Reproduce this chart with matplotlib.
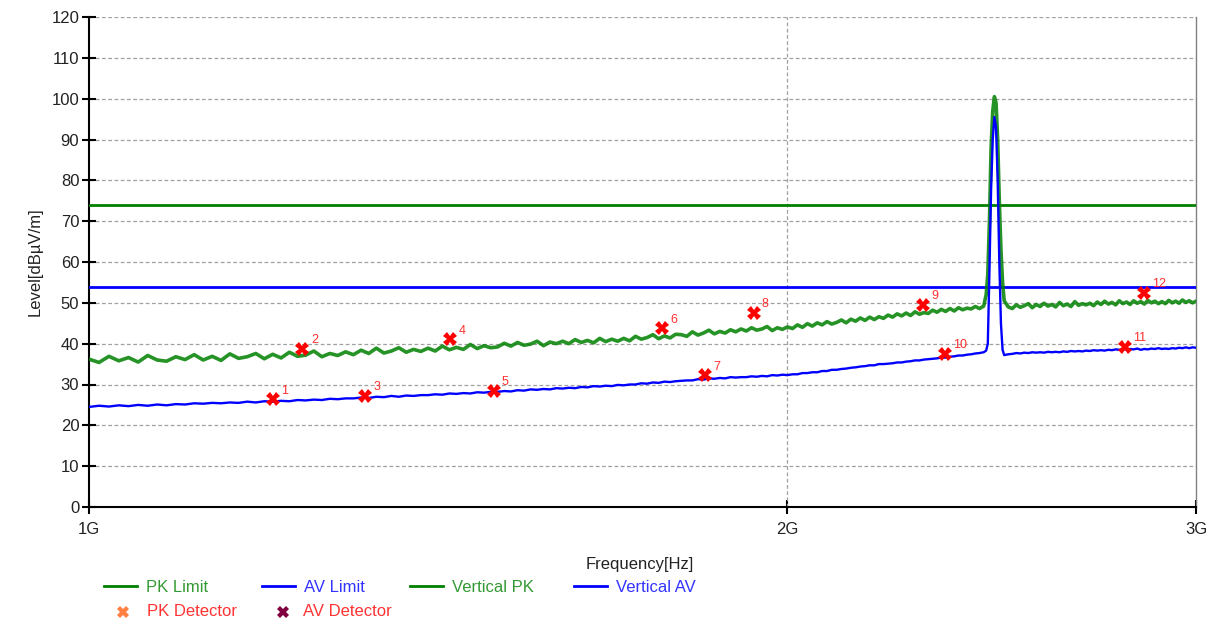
import numpy as np
import matplotlib
matplotlib.use("Agg")
import matplotlib.pyplot as plt
from matplotlib.lines import Line2D

plt.rcParams['font.family'] = ['Liberation Sans', 'DejaVu Sans']

# sweep grid (MHz), 10 MHz steps below and above the 2.45 GHz carrier
sweep_lo_mhz = np.arange(1000, 2440, 10)
peak_mhz = [2436, 2440, 2444, 2448, 2452, 2456, 2460, 2464, 2468, 2472, 2476, 2480, 2490]
sweep_hi_mhz = np.arange(2500, 3010, 10)

pk_lo = [
    36.2, 35.4, 36.9, 35.8, 36.6, 35.5, 37.1, 36.0, 35.7, 36.8,
    36.1, 37.3, 36.0, 36.9, 35.9, 37.5, 36.4, 36.8, 37.6, 36.3,
    37.4, 36.5, 37.9, 36.9, 37.2, 38.2, 36.8, 37.6, 37.1, 38.0,
    37.3, 38.4, 37.6, 38.9, 37.7, 38.2, 39.0, 37.9, 38.6, 38.1,
    38.9, 38.2, 39.4, 38.5, 39.1, 38.6, 39.8, 38.8, 39.5, 39.0,
    39.2, 40.1, 39.4, 40.3, 39.6, 39.9, 40.6, 39.5, 40.4, 40.0,
    40.6, 40.0, 41.0, 40.3, 40.8, 40.2, 41.3, 40.5, 41.1, 40.6,
    41.3, 40.7, 41.8, 41.1, 41.5, 42.2, 41.2, 41.9, 41.4, 42.3,
    42.2, 41.8, 42.9, 42.1, 42.6, 43.3, 42.4, 43.0, 42.6, 43.4,
    42.9, 43.6, 43.1, 43.9, 43.3, 43.6, 44.2, 43.2, 43.9, 43.5,
    44.1, 43.7, 44.6, 44.0, 44.9, 44.3, 45.1, 44.6, 45.4, 44.8,
    45.2, 45.8, 45.1, 46.0, 45.5, 46.3, 45.7, 46.5, 45.9, 46.6,
    46.2, 47.0, 46.5, 47.3, 46.8, 47.5, 46.9, 47.8, 47.2, 47.6,
    47.4, 48.2, 47.7, 48.4, 47.9, 48.6, 48.0, 48.8, 48.3, 48.7,
    48.5, 49.1, 48.6, 49.2,
]
pk_peak = [52.0, 57.0, 70.0, 88.0, 97.0, 100.5, 99.0, 90.0, 75.0, 63.0, 55.0, 50.5, 49.0]
pk_hi = [
    48.6, 49.5, 48.9, 49.3, 49.8, 48.8, 49.6, 49.1, 49.9, 49.2,
    49.6, 49.0, 50.1, 49.3, 49.7, 49.1, 50.3, 49.4, 49.8, 49.5,
    49.9, 49.3, 50.2, 49.6, 50.4, 49.7, 50.1, 49.5, 50.5, 49.8,
    50.2, 49.6, 50.5, 49.9, 50.3, 49.7, 50.6, 50.0, 50.4, 49.8,
    50.3, 49.8, 50.6, 50.0, 50.4, 49.9, 50.7, 50.1, 50.5, 50.0, 50.4,
]

av_lo = [
    24.5, 24.8, 24.6, 24.9, 24.7, 25.0, 24.8, 25.1, 24.9, 25.2,
    25.1, 25.4, 25.3, 25.5, 25.4, 25.6, 25.5, 25.8, 25.6, 25.9,
    25.8, 26.0, 25.9, 26.2, 26.1, 26.3, 26.2, 26.5, 26.4, 26.6,
    26.6, 26.8, 26.7, 27.0, 26.9, 27.2, 27.0, 27.3, 27.2, 27.4,
    27.4, 27.6, 27.5, 27.8, 27.7, 27.9, 27.8, 28.1, 28.0, 28.2,
    28.2, 28.4, 28.3, 28.6, 28.5, 28.8, 28.7, 28.9, 28.8, 29.1,
    29.0, 29.2, 29.1, 29.4, 29.3, 29.6, 29.5, 29.7, 29.6, 29.9,
    29.8, 30.0, 30.0, 30.3, 30.2, 30.5, 30.4, 30.7, 30.6, 30.8,
    30.9, 31.0, 31.0, 31.3, 31.2, 31.5, 31.4, 31.6, 31.5, 31.8,
    31.7, 31.8, 31.8, 32.0, 31.9, 32.1, 32.0, 32.3, 32.2, 32.4,
    32.3, 32.5, 32.5, 32.8, 32.8, 33.0, 33.0, 33.3, 33.3, 33.6,
    33.6, 33.8, 33.9, 34.1, 34.2, 34.4, 34.5, 34.7, 34.7, 35.0,
    35.0, 35.1, 35.2, 35.4, 35.4, 35.6, 35.7, 35.9, 35.9, 36.1,
    36.2, 36.3, 36.4, 36.6, 36.6, 36.8, 36.9, 37.1, 37.1, 37.3,
    37.4, 37.6, 37.7, 37.9,
]
av_peak = [38.3, 40.0, 58.0, 78.0, 90.0, 95.5, 93.0, 80.0, 60.0, 45.0, 38.5, 37.2, 37.4]
av_hi = [
    37.5, 37.7, 37.6, 37.8, 37.7, 37.9, 37.8, 37.9, 37.8, 38.0,
    37.9, 38.0, 37.9, 38.1, 38.0, 38.2, 38.1, 38.2, 38.1, 38.3,
    38.2, 38.4, 38.3, 38.4, 38.3, 38.5, 38.4, 38.6, 38.5, 38.6,
    38.6, 38.7, 38.6, 38.8, 38.5, 38.7, 38.6, 38.8, 38.7, 38.9,
    38.7, 38.8, 38.7, 38.9, 38.8, 39.0, 38.9, 39.1, 38.9, 39.1, 39.0,
]

pk_limit = 74
av_limit = 54

det_mhz = [1200, 1236, 1315, 1431, 1494, 1766, 1843, 1934, 2288, 2338, 2796, 2849]
det_level = [26.4, 38.7, 27.2, 41.1, 28.4, 43.8, 32.3, 47.5, 49.5, 37.5, 39.2, 52.4]
det_labels = ["1", "2", "3", "4", "5", "6", "7", "8", "9", "10", "11", "12"]

GREEN = "#008000"
BLUE = "#0000FF"

freq = np.concatenate([sweep_lo_mhz, peak_mhz, sweep_hi_mhz]) * 1e6
pk = np.concatenate([pk_lo, pk_peak, pk_hi])
av = np.concatenate([av_lo, av_peak, av_hi])

fig = plt.figure(figsize=(12.13, 6.22), dpi=100)
ax = fig.add_axes([89 / 1213, 1 - 507 / 622, (1196 - 89) / 1213, (507 - 17) / 622])

ax.set_xscale("log")
ax.set_xlim(1e9, 3e9)
ax.set_ylim(0, 120)

ax.axhline(pk_limit, color=GREEN, lw=2, zorder=3)
ax.axhline(av_limit, color=BLUE, lw=2, zorder=3)
ax.plot(freq, pk, color=GREEN, lw=2.6, alpha=0.85, zorder=4)
ax.plot(freq, av, color=BLUE, lw=1.7, zorder=5)

det_hz = np.array(det_mhz) * 1e6
ax.plot(det_hz, det_level, linestyle="none", marker="X", markersize=10,
        color="#FF0000", markeredgewidth=0, zorder=6)
for f, lv, lab in zip(det_hz, det_level, det_labels):
    ax.annotate(lab, (f, lv), xytext=(6, 4), textcoords="offset points",
                color="#FF3030", fontsize=9, zorder=7)

ax.set_yticks(np.arange(0, 121, 10))
ax.set_xticks([1e9, 2e9, 3e9])
ax.set_xticklabels(["1G", "2G", "3G"])
ax.xaxis.set_minor_locator(matplotlib.ticker.NullLocator())
ax.tick_params(axis="both", direction="inout", length=10, width=1.5,
               labelsize=12, labelcolor="#222222", pad=2)
ax.tick_params(axis="x", pad=6)

ax.grid(True, axis="y", color="#A0A0A0", linestyle=(0, (3, 2)), lw=0.9)
ax.axvline(2e9, color="#A0A0A0", linestyle=(0, (3, 2)), lw=0.9, zorder=1)
ax.set_axisbelow(True)

for s in ["left", "bottom"]:
    ax.spines[s].set_linewidth(1.5)
    ax.spines[s].set_color("black")
ax.spines["right"].set_color("#808080")
ax.spines["right"].set_linewidth(1)
ax.spines["top"].set_visible(False)

ax.set_ylabel("Level[dBµV/m]", fontsize=12, color="#222222", labelpad=6)
fig.text(640 / 1213, 1 - 564 / 622, "Frequency[Hz]", fontsize=12,
         color="#222222", ha="center", va="center")

# legend, laid out like the instrument software
W, H = 1213, 622
def fx(px):
    return px / W
def fy(py):
    return 1 - py / H

row1 = [("PK Limit", GREEN, "#339933", 104),
        ("AV Limit", BLUE, "#3333FF", 262),
        ("Vertical PK", GREEN, "#339933", 410),
        ("Vertical AV", BLUE, "#3333FF", 574)]
for name, lc, tc, x0 in row1:
    fig.add_artist(Line2D([fx(x0), fx(x0 + 33)], [fy(586), fy(586)],
                          color=lc, lw=2, transform=fig.transFigure))
    fig.text(fx(x0 + 42), fy(587), name, color=tc, fontsize=12,
             ha="left", va="center")

row2 = [("PK Detector", "#FF8040", 123, 147),
        ("AV Detector", "#800040", 283, 303)]
for name, mc, mx, tx in row2:
    fig.add_artist(Line2D([fx(mx)], [fy(612)], marker="X", markersize=8,
                          markeredgewidth=0, color=mc, linestyle="none",
                          transform=fig.transFigure))
    fig.text(fx(tx), fy(612), name, color="#FF3333", fontsize=12,
             ha="left", va="center")

fig.savefig("out.png", dpi=100)
